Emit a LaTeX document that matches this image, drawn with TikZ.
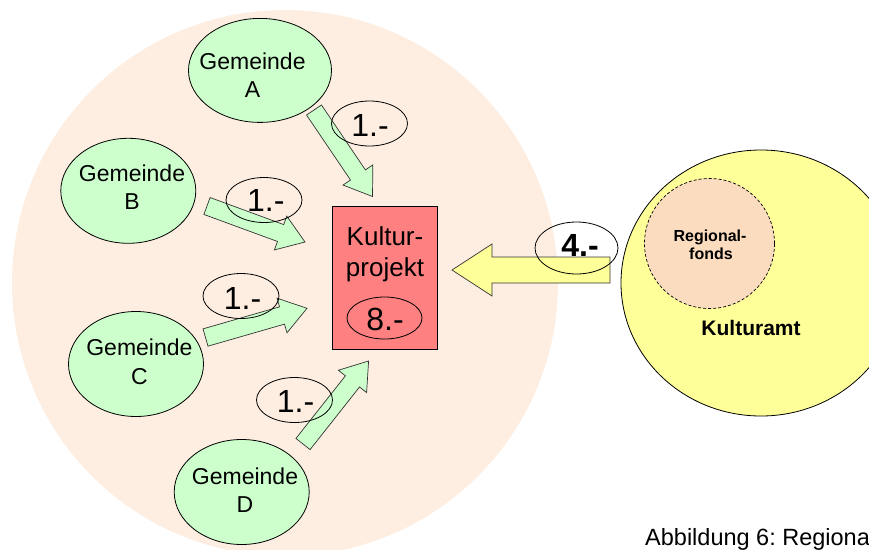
\documentclass[tikz,border=0pt]{standalone}
\usepackage{fontspec}
\setmainfont{Liberation Sans}
\usetikzlibrary{calc,shapes.geometric}
\frenchspacing

\definecolor{regionbg}{HTML}{FDEEE1}
\definecolor{gemgreen}{HTML}{CCFFCC}
\definecolor{projred}{HTML}{FF8080}
\definecolor{amtyellow}{HTML}{FFFF99}
\definecolor{fondpeach}{HTML}{FBDCBF}
\definecolor{edgegray}{HTML}{333333}

% Block arrow: #1 tail, #2 tip, #3 half shaft width, #4 half head width,
% #5 head length, #6 style
\newcommand\blockarrow[6]{%
  \path ($(#2)!#5!(#1)$) coordinate (ba-base);
  \draw[#6]
    ($(#1)!#3!90:(#2)$) -- ($(ba-base)!#3!90:(#2)$) --
    ($(ba-base)!#4!90:(#2)$) -- (#2) --
    ($(ba-base)!#4!-90:(#2)$) -- ($(ba-base)!#3!-90:(#2)$) --
    ($(#1)!#3!-90:(#2)$) -- cycle;
}

\begin{document}
\begin{tikzpicture}[x=1pt,y=-1pt,
  outline/.style={draw=black, line width=0.8pt},
  gem/.style={ellipse, outline, fill=gemgreen, inner sep=0pt},
  amount/.style={ellipse, outline, inner sep=0pt, minimum width=76pt, minimum height=45pt},
  txt/.style={inner sep=0pt, anchor=base},
  gemtxt/.style={txt, font=\fontsize{23}{28}\selectfont},
  bigtxt/.style={txt, font=\fontsize{32}{36}\selectfont},
  greenarrow/.style={fill=gemgreen, draw=edgegray, line width=0.7pt},
  yellowarrow/.style={fill=amtyellow, draw=edgegray, line width=0.7pt}
]
\useasboundingbox (0,0) rectangle (869,549);
\clip (0,0) rectangle (869,549);

% region of the municipalities
\node[circle, fill=regionbg, minimum size=546pt, inner sep=0pt] (region) at (285,283) {};

% cultural office with its regional fund
\node[ellipse, outline, fill=amtyellow, minimum width=280pt, minimum height=266pt, inner sep=0pt] (ka) at (761,283) {};
\node[circle, draw=black, line width=0.7pt, dash pattern=on 3pt off 2pt, fill=fondpeach, minimum size=130pt, inner sep=0pt] (rf) at (709.5,243.5) {};
\node[txt, font=\fontsize{16}{18}\selectfont\bfseries] (rft1) at (710,241) {Regional-};
\node[txt, font=\fontsize{16}{18}\selectfont\bfseries] (rft2) at (711,259.3) {fonds};
\node[txt, font=\fontsize{21}{24}\selectfont\bfseries] (kat) at (751,335) {Kulturamt};

% contribution arrows
\coordinate (aAt) at (314,110);   \coordinate (aAh) at (372.5,196.5);
\coordinate (aBt) at (207,206);   \coordinate (aBh) at (305,242);
\coordinate (aCt) at (205.5,337.5); \coordinate (aCh) at (307,308.3);
\coordinate (aDt) at (303,444);   \coordinate (aDh) at (368.6,361);
\blockarrow{aAt}{aAh}{9pt}{18pt}{26pt}{greenarrow}
\blockarrow{aBt}{aBh}{9pt}{18pt}{26pt}{greenarrow}
\blockarrow{aCt}{aCh}{9pt}{18pt}{26pt}{greenarrow}
\blockarrow{aDt}{aDh}{9pt}{18pt}{26pt}{greenarrow}
\coordinate (aKt) at (610,270);   \coordinate (aKh) at (452,270);
\blockarrow{aKt}{aKh}{13pt}{26pt}{40pt}{yellowarrow}

% municipalities
\node[gem, minimum width=143pt, minimum height=104pt] (gA) at (260,70.4) {};
\node[gem, minimum width=135pt, minimum height=105pt] (gB) at (128.3,190.8) {};
\node[gem, minimum width=135pt, minimum height=105pt] (gC) at (136,364) {};
\node[gem, minimum width=135pt, minimum height=105pt] (gD) at (241.7,492) {};
\node[gemtxt] (gAt1) at (252.5,69.3) {Gemeinde};
\node[gemtxt] (gAt2) at (252.5,97.3) {A};
\node[gemtxt] (gBt1) at (132,181) {Gemeinde};
\node[gemtxt] (gBt2) at (132,209.5) {B};
\node[gemtxt] (gCt1) at (139.4,355.5) {Gemeinde};
\node[gemtxt] (gCt2) at (139.4,384) {C};
\node[gemtxt] (gDt1) at (245,484) {Gemeinde};
\node[gemtxt] (gDt2) at (245,512) {D};

% cultural project
\node[outline, fill=projred, minimum width=105pt, minimum height=143pt, inner sep=0pt] (kp) at (384.5,277.5) {};
\node[txt, font=\fontsize{26}{30}\selectfont] (kpt1) at (385,245) {Kultur-};
\node[txt, font=\fontsize{26}{30}\selectfont] (kpt2) at (385,276) {projekt};
\node[amount, minimum width=75pt, minimum height=42pt] (k8) at (384.5,318) {};
\node[bigtxt] (k8t) at (385,330) {8.-};

% amounts
\node[amount] (lA) at (369.5,123.5) {};
\node[amount] (lB) at (264,200) {};
\node[amount] (lC) at (241,296) {};
\node[amount] (lD) at (294.5,400) {};
\node[amount, minimum width=83pt, minimum height=52pt] (l4) at (576.5,248) {};
\node[bigtxt] (lAt) at (370,136.7) {1.-};
\node[bigtxt] (lBt) at (265.8,211.7) {1.-};
\node[bigtxt] (lCt) at (242.5,309.3) {1.-};
\node[bigtxt] (lDt) at (295.5,412.7) {1.-};
\node[bigtxt, font=\fontsize{32}{36}\selectfont\bfseries] (l4t) at (580,256.7) {4.-};

% caption
\node[txt, anchor=base west, font=\fontsize{23.5}{28}\selectfont] (cap) at (645,545) {Abbildung 6: Regiona};
\end{tikzpicture}
\end{document}
